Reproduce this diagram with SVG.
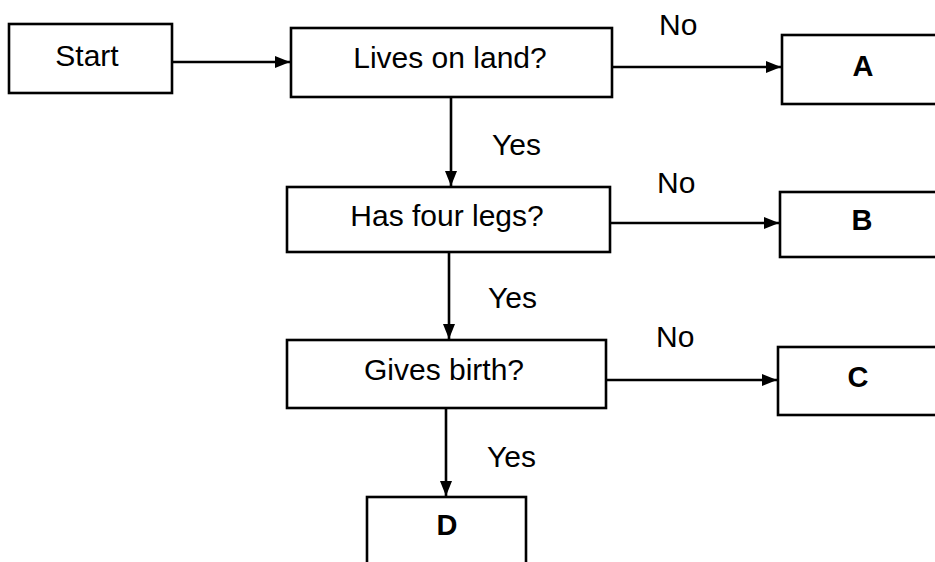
<svg xmlns="http://www.w3.org/2000/svg" width="935" height="562" viewBox="0 0 935 562">
<style>
.box{fill:#fff;stroke:#000;stroke-width:2.6}
.t{font-family:"Liberation Sans",Arial,sans-serif;font-size:30px;fill:#000}
.b{font-weight:bold;text-anchor:middle;font-size:29px}
.m{text-anchor:middle}
.c{fill:none;stroke:#000;stroke-width:2.6}
</style>
<defs>
<marker id="ah" markerUnits="userSpaceOnUse" markerWidth="16" markerHeight="12" refX="15" refY="6" orient="auto">
<path d="M0,0 L15,6 L0,12 Z" fill="#000"/>
</marker>
</defs>
<rect width="935" height="562" fill="#fff"/>
<g id="connectors">
<line class="c" x1="172" y1="62" x2="290" y2="62" marker-end="url(#ah)"/>
<line class="c" x1="612" y1="67" x2="781" y2="67" marker-end="url(#ah)"/>
<line class="c" x1="451" y1="97" x2="451" y2="186" marker-end="url(#ah)"/>
<line class="c" x1="610" y1="223" x2="779" y2="223" marker-end="url(#ah)"/>
<line class="c" x1="449" y1="252" x2="449" y2="339" marker-end="url(#ah)"/>
<line class="c" x1="606" y1="380" x2="777" y2="380" marker-end="url(#ah)"/>
<line class="c" x1="446" y1="408" x2="446" y2="496" marker-end="url(#ah)"/>
<text class="t" x="659" y="35">No</text>
<text class="t" x="657" y="193">No</text>
<text class="t" x="656" y="347">No</text>
<text class="t" x="492" y="155">Yes</text>
<text class="t" x="488" y="308">Yes</text>
<text class="t" x="487" y="467">Yes</text>
</g>
<g id="start">
<rect class="box" x="9" y="24" width="163" height="69"/>
<text class="t m" x="87" y="66">Start</text>
</g>
<g id="lives">
<rect class="box" x="291" y="28" width="321" height="69"/>
<text class="t m" x="450" y="68">Lives on land?</text>
</g>
<g id="legs">
<rect class="box" x="287" y="187" width="323" height="65"/>
<text class="t m" x="447" y="226">Has four legs?</text>
</g>
<g id="birth">
<rect class="box" x="287" y="340" width="319" height="68"/>
<text class="t m" x="444" y="380">Gives birth?</text>
</g>
<g id="A">
<rect class="box" x="782" y="35" width="170" height="69"/>
<text class="t b" x="863" y="76">A</text>
</g>
<g id="B">
<rect class="box" x="780" y="192" width="170" height="65"/>
<text class="t b" x="862" y="230">B</text>
</g>
<g id="C">
<rect class="box" x="778" y="347" width="170" height="68"/>
<text class="t b" x="858" y="387">C</text>
</g>
<g id="D">
<rect class="box" x="367" y="497" width="159" height="80"/>
<text class="t b" x="447" y="535">D</text>
</g>
</svg>
